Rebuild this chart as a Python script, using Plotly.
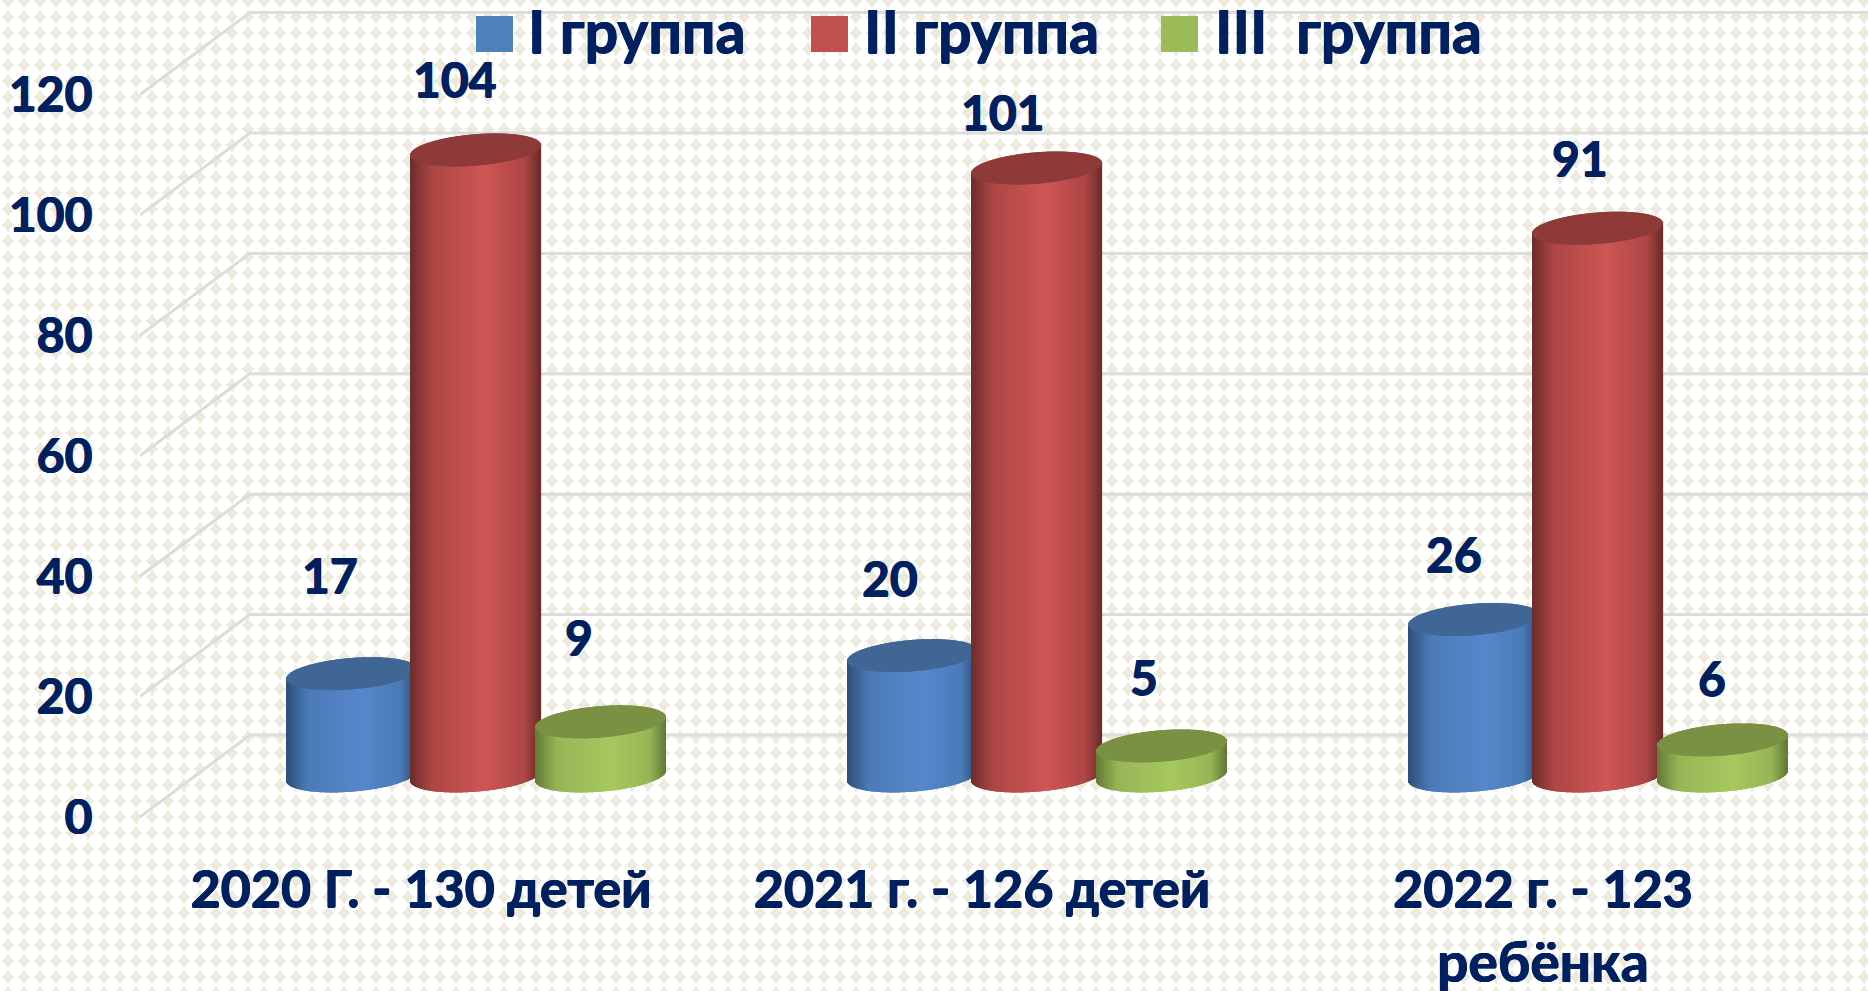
import base64
import math
import plotly.graph_objects as go

# ---- data ----
categories = ["2020 Г. - 130 детей", "2021 г. - 126 детей", "2022 г. - 123<br>ребёнка"]
series_names = ["I группа", "II группа", "III\u00a0\u00a0группа"]
group_i = [17, 20, 26]
group_ii = [104, 101, 91]
group_iii = [9, 5, 6]
y_ticks = [0, 20, 40, 60, 80, 100, 120]

# ---- style ----
FONT = "Lato, 'Noto Sans', sans-serif"
INK = "#002060"
THICKEN = "0.6px 0 0 #002060, -0.6px 0 0 #002060, 0 0.5px 0 #002060"
GRID = "#DCDCDA"
swatches = ["#4F81BD", "#C0504D", "#9BBB59"]
caps = ["#3F6694", "#8E3A38", "#7A9043"]
edge_cols = [(44, 78, 120), (108, 44, 43), (98, 122, 54)]
mid_cols = [(74, 122, 183), (172, 70, 68), (150, 182, 86)]
peak_cols = [(86, 135, 203), (206, 86, 84), (166, 200, 94)]

# ---- geometry in pixels of the 1868x991 page ----
W, H = 1868, 991
PLOT_L, PLOT_B = 140, 817
PX_X = 561.0          # pixels per category
PX_Y = 6.02           # pixels per value unit
X0_PX = 421.0         # first category on the front edge
DEPTH_X = 55.0 / PX_X    # half of the floor depth, x units
DEPTH_Y = 41.0 / PX_Y    # half of the floor depth, y units
BAR_W = 130.0 / PX_X
BAR_STEP = 124.5 / PX_X
TILT = 5.0 / PX_Y
THICK = 15.7 / PX_Y
STRIPS = 130

x_min = (PLOT_L - X0_PX) / PX_X
x_max = (W - X0_PX) / PX_X
y_max = PLOT_B / PX_Y


def px(xp):
    return (xp - PLOT_L) / (W - PLOT_L)


def py(yp):
    return (PLOT_B - yp) / PLOT_B


def shade(s, u):
    """u in -1..1 across the cylinder"""
    t = (u + 1) / 2
    stops = [(0.0, edge_cols[s]), (0.17, mid_cols[s]), (0.58, peak_cols[s]),
             (0.88, mid_cols[s]), (1.0, edge_cols[s])]
    for (a, ca), (b, cb) in zip(stops, stops[1:]):
        if t <= b:
            f = (t - a) / (b - a)
            return "rgb(%d,%d,%d)" % tuple(round(p + (q - p) * f) for p, q in zip(ca, cb))
    return "rgb(%d,%d,%d)" % stops[-1][1]


fig = go.Figure()
all_series = [group_i, group_ii, group_iii]

for g in range(len(categories)):
    for s, vals in enumerate(all_series):
        cx = g + DEPTH_X + (s - 1) * BAR_STEP
        v = vals[g]
        xs, tops, bases, cols = [], [], [], []
        cap_xs, cap_tops, cap_bases = [], [], []
        for i in range(STRIPS):
            u = -1 + (2 * i + 1) / STRIPS
            root = math.sqrt(1 - u * u)
            x = cx + u * BAR_W / 2
            low = DEPTH_Y + TILT * u - THICK * root
            mid_top = DEPTH_Y + v + TILT * u
            xs.append(x)
            bases.append(low)
            tops.append(mid_top - low)
            cols.append(shade(s, u))
            cap_xs.append(x)
            cap_bases.append(mid_top - THICK * root)
            cap_tops.append(2 * THICK * root)
        fig.add_bar(x=xs + cap_xs, y=tops + cap_tops, base=bases + cap_bases,
                    width=[1.25 / PX_X] * (2 * STRIPS),
                    marker=dict(color=cols + [caps[s]] * STRIPS, line_width=0),
                    name=series_names[s], showlegend=False, hoverinfo="skip")

# ---- 3D walls: front diagonal + back line for every tick ----
shapes = []
for t in y_ticks:
    shapes.append(dict(type="path", xref="x", yref="y", layer="below",
                       path="M%f,%f L%f,%f L%f,%f" % (x_min, t, x_min + 2 * DEPTH_X, t + 2 * DEPTH_Y,
                                                      x_max + 1, t + 2 * DEPTH_Y),
                       line=dict(color=GRID, width=3), fillcolor="rgba(0,0,0,0)"))

# ---- hand-drawn legend ----
legend_sq_l = [476, 811, 1161]
legend_text_l = [526, 862, 1213]
annotations = []
for s, name in enumerate(series_names):
    shapes.append(dict(type="rect", xref="paper", yref="paper", layer="above",
                       x0=px(legend_sq_l[s]), x1=px(legend_sq_l[s] + 37),
                       y0=py(52), y1=py(16), fillcolor=swatches[s], line_width=0))
    annotations.append(dict(xref="paper", yref="paper", x=px(legend_text_l[s]), y=py(30),
                            text=name, showarrow=False, xanchor="left", yanchor="middle",
                            font=dict(family=FONT, size=59, color=INK, weight=700, shadow=THICKEN)))

# ---- value labels ----
label_dx = [[-22, -21, -22], [-23, -34, -18], [-20, -18, -11]]
label_dy = [[-99, -71, -85], [-78, -56, -69], [-66, -71, -62]]
for g in range(len(categories)):
    for s, vals in enumerate(all_series):
        annotations.append(dict(xref="x", yref="y",
                                x=g + DEPTH_X + (s - 1) * BAR_STEP, y=DEPTH_Y + vals[g],
                                xshift=label_dx[g][s], yshift=-label_dy[g][s],
                                text=str(vals[g]), showarrow=False,
                                font=dict(family=FONT, size=48, color=INK, weight=700, shadow=THICKEN)))

# ---- background tile ----
rows = [2, 2, 4, 4, 8, 8, 12, 12, 8, 8, 4, 4, 2, 2]
rects = "".join('<rect x="%d" y="%d" width="%d" height="1"/>' % (8 - w // 2, i + 1, w)
                for i, w in enumerate(rows))
svg = ('<svg xmlns="http://www.w3.org/2000/svg" width="%d" height="%d" shape-rendering="crispEdges">'
       '<defs><pattern id="p" width="16" height="16" patternUnits="userSpaceOnUse" '
       'patternTransform="translate(0,-7)"><g fill="#ECEADD">%s</g></pattern></defs>'
       '<rect width="100%%" height="100%%" fill="#fff"/><rect width="100%%" height="100%%" fill="url(#p)"/></svg>'
       % (W, H, rects))
bg = "data:image/svg+xml;base64," + base64.b64encode(svg.encode()).decode()

fig.update_layout(
    width=W, height=H, autosize=False,
    margin=dict(l=PLOT_L, r=0, t=0, b=H - PLOT_B, pad=0, autoexpand=False),
    barmode="overlay", showlegend=False,
    paper_bgcolor="white", plot_bgcolor="rgba(0,0,0,0)",
    images=[dict(source=bg, xref="paper", yref="paper", x=px(0), y=py(0),
                 sizex=W / (W - PLOT_L), sizey=H / PLOT_B, xanchor="left", yanchor="top",
                 sizing="stretch", layer="below")],
    shapes=shapes, annotations=annotations,
    xaxis=dict(range=[x_min, x_max], tickvals=list(range(len(categories))),
               ticktext=['<span style="font-size:52px">%s</span>' % c.replace("<br>", '</span><br><span style="font-size:55px">')
                         for c in categories],
               tickfont=dict(family=FONT, size=57, color=INK, weight=700, shadow=THICKEN),
               tickangle=0, ticks="outside", ticklen=21, tickcolor="rgba(0,0,0,0)",
               showgrid=False, zeroline=False, showline=False, automargin=False),
    yaxis=dict(range=[0, y_max], tickvals=y_ticks,
               tickfont=dict(family=FONT, size=48, color=INK, weight=700, shadow=THICKEN),
               ticks="outside", ticklen=37, tickcolor="rgba(0,0,0,0)",
               showgrid=False, zeroline=False, showline=False, automargin=False),
)
fig.write_html("out.html", config={"displayModeBar": False},
               post_script="document.body.style.margin='0';document.documentElement.style.overflow='hidden';")
